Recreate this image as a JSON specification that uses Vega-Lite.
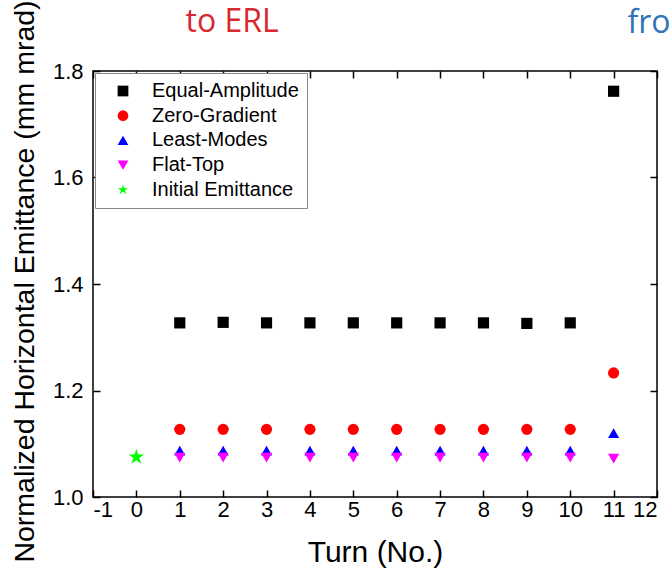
{
  "$schema": "https://vega.github.io/schema/vega-lite/v6.json",
  "autosize": "none",
  "width": 564,
  "height": 426,
  "padding": {"left": 93, "top": 71, "right": 15, "bottom": 74},
  "background": "white",
  "config": {
    "font": "Liberation Sans",
    "view": {"stroke": "black", "strokeWidth": 1.5},
    "axis": {"grid": false, "domain": false, "tickColor": "black", "tickWidth": 1.5, "labelColor": "black", "titleColor": "black", "labelFont": "Liberation Sans", "titleFont": "Liberation Sans", "titleFontWeight": "normal"},
    "legend": {"labelFont": "Liberation Sans", "labelColor": "black", "symbolSize": 115}
  },
  "data": {"values": [
    {"series": "Equal-Amplitude", "turn": 1, "value": 1.327},
    {"series": "Equal-Amplitude", "turn": 2, "value": 1.328},
    {"series": "Equal-Amplitude", "turn": 3, "value": 1.327},
    {"series": "Equal-Amplitude", "turn": 4, "value": 1.327},
    {"series": "Equal-Amplitude", "turn": 5, "value": 1.327},
    {"series": "Equal-Amplitude", "turn": 6, "value": 1.327},
    {"series": "Equal-Amplitude", "turn": 7, "value": 1.327},
    {"series": "Equal-Amplitude", "turn": 8, "value": 1.327},
    {"series": "Equal-Amplitude", "turn": 9, "value": 1.326},
    {"series": "Equal-Amplitude", "turn": 10, "value": 1.327},
    {"series": "Equal-Amplitude", "turn": 11, "value": 1.762},
    {"series": "Zero-Gradient", "turn": 1, "value": 1.127},
    {"series": "Zero-Gradient", "turn": 2, "value": 1.127},
    {"series": "Zero-Gradient", "turn": 3, "value": 1.127},
    {"series": "Zero-Gradient", "turn": 4, "value": 1.127},
    {"series": "Zero-Gradient", "turn": 5, "value": 1.127},
    {"series": "Zero-Gradient", "turn": 6, "value": 1.127},
    {"series": "Zero-Gradient", "turn": 7, "value": 1.127},
    {"series": "Zero-Gradient", "turn": 8, "value": 1.127},
    {"series": "Zero-Gradient", "turn": 9, "value": 1.127},
    {"series": "Zero-Gradient", "turn": 10, "value": 1.127},
    {"series": "Zero-Gradient", "turn": 11, "value": 1.233},
    {"series": "Least-Modes", "turn": 1, "value": 1.087},
    {"series": "Least-Modes", "turn": 2, "value": 1.087},
    {"series": "Least-Modes", "turn": 3, "value": 1.087},
    {"series": "Least-Modes", "turn": 4, "value": 1.087},
    {"series": "Least-Modes", "turn": 5, "value": 1.087},
    {"series": "Least-Modes", "turn": 6, "value": 1.087},
    {"series": "Least-Modes", "turn": 7, "value": 1.087},
    {"series": "Least-Modes", "turn": 8, "value": 1.087},
    {"series": "Least-Modes", "turn": 9, "value": 1.087},
    {"series": "Least-Modes", "turn": 10, "value": 1.087},
    {"series": "Least-Modes", "turn": 11, "value": 1.12},
    {"series": "Flat-Top", "turn": 1, "value": 1.074},
    {"series": "Flat-Top", "turn": 2, "value": 1.074},
    {"series": "Flat-Top", "turn": 3, "value": 1.074},
    {"series": "Flat-Top", "turn": 4, "value": 1.074},
    {"series": "Flat-Top", "turn": 5, "value": 1.074},
    {"series": "Flat-Top", "turn": 6, "value": 1.074},
    {"series": "Flat-Top", "turn": 7, "value": 1.074},
    {"series": "Flat-Top", "turn": 8, "value": 1.074},
    {"series": "Flat-Top", "turn": 9, "value": 1.074},
    {"series": "Flat-Top", "turn": 10, "value": 1.074},
    {"series": "Flat-Top", "turn": 11, "value": 1.072},
    {"series": "Initial Emittance", "turn": 0, "value": 1.075}
  ]},
  "layer": [
    {
      "transform": [{"filter": "datum.series != 'Initial Emittance'"}],
      "mark": {"type": "point", "filled": true, "opacity": 1, "size": 125},
      "encoding": {
        "x": {"field": "turn", "type": "quantitative", "title": "Turn (No.)",
              "scale": {"domain": [-1, 12], "nice": false, "zero": false},
              "axis": {"orient": "bottom", "values": [-1,0,1,2,3,4,5,6,7,8,9,10,11,12], "labelExpr": "'' + datum.value", "tickSize": -7, "labelPadding": 9, "labelFontSize": 22, "titleFontSize": 30, "titleY": 40, "titleBaseline": "top"}},
        "y": {"field": "value", "type": "quantitative", "title": "Normalized Horizontal Emittance (mm mrad)",
              "scale": {"domain": [1.0, 1.8], "nice": false, "zero": false},
              "axis": {"orient": "left", "values": [1.0, 1.2, 1.4, 1.6, 1.8], "format": ".1f", "tickSize": -7, "labelPadding": 17, "labelFontSize": 22, "titleFontSize": 28.5, "titleX": -60, "titleY": 210, "titleAngle": 270, "titleBaseline": "alphabetic", "titleAlign": "center"}},
        "color": {"field": "series", "type": "nominal", "title": null,
                  "scale": {"domain": ["Equal-Amplitude", "Zero-Gradient", "Least-Modes", "Flat-Top", "Initial Emittance"],
                            "range": ["#000000", "#ff0000", "#0000ff", "#ff00ff", "#00ff00"]},
                  "legend": {"orient": "top-left", "offset": 2, "strokeColor": "#888888", "fillColor": "white", "padding": 8, "labelFontSize": 20, "rowPadding": 4.7, "labelOffset": 19, "symbolOffset": 10}},
        "shape": {"field": "series", "type": "nominal", "title": null,
                  "scale": {"domain": ["Equal-Amplitude", "Zero-Gradient", "Least-Modes", "Flat-Top", "Initial Emittance"],
                            "range": ["square", "circle", "triangle-up", "triangle-down", "M0,-1L0.2245,-0.309L0.951,-0.309L0.363,0.118L0.588,0.809L0,0.382L-0.588,0.809L-0.363,0.118L-0.951,-0.309L-0.2245,-0.309Z"]}}
      }
    },
    {
      "transform": [{"filter": "datum.series == 'Initial Emittance'"}],
      "mark": {"type": "point", "filled": true, "opacity": 1, "size": 270},
      "encoding": {
        "x": {"field": "turn", "type": "quantitative", "axis": null},
        "y": {"field": "value", "type": "quantitative", "axis": null},
        "color": {"field": "series", "type": "nominal"},
        "shape": {"field": "series", "type": "nominal"}
      }
    },
    {
      "mark": {"type": "point", "opacity": 0},
      "encoding": {
        "x": {"field": "turn", "type": "quantitative",
              "axis": {"orient": "top", "values": [-1,0,1,2,3,4,5,6,7,8,9,10,11,12], "labels": false, "tickSize": -7, "title": "fro", "titleColor": "#2e75b6", "titleFont": "Open Sans", "titleFontSize": 32, "titleX": 534, "titleY": -39, "titleAlign": "left", "titleBaseline": "alphabetic", "titleAngle": 0}},
        "y": {"field": "value", "type": "quantitative",
              "axis": {"orient": "right", "values": [1.0, 1.2, 1.4, 1.6, 1.8], "labels": false, "tickSize": -7, "title": "to ERL", "titleColor": "#d7282f", "titleFont": "Open Sans", "titleFontSize": 32, "titleX": -472, "titleY": -40, "titleAlign": "left", "titleBaseline": "alphabetic", "titleAngle": 0}}
      }
    }
  ],
  "resolve": {"axis": {"x": "independent", "y": "independent"}}
}
